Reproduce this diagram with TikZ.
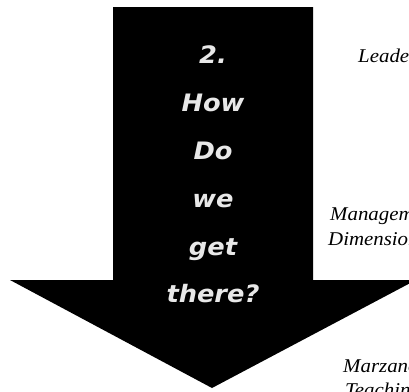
\documentclass[tikz,border=0pt]{standalone}
\usepackage{fontspec}
\setmainfont{Liberation Serif}
\newfontfamily\arrowfont{DejaVu Sans}[BoldItalicFont={DejaVu Sans Bold Oblique}]
\begin{document}
\begin{tikzpicture}[x=1pt,y=-1pt,
  arrowtxt/.style={anchor=base, text=white!91!black, inner sep=0pt,
    font=\arrowfont\bfseries\itshape\fontsize{24}{24}\selectfont},
  sidetxt/.style={anchor=base west, inner sep=0pt,
    font=\itshape\fontsize{19.5}{19.5}\selectfont}]
\useasboundingbox (0,0) rectangle (409,391);
\clip (0,0) rectangle (409,391);
\fill[black] (113,7) -- (313,7) -- (313,280) -- (416,280) -- (212,388) -- (10,280) -- (113,280) -- cycle;
\node[arrowtxt] (t1) at (213,63)  {\scalebox{1.07}[1]{2.}};
\node[arrowtxt] (t2) at (213,111) {\scalebox{1.07}[1]{How}};
\node[arrowtxt] (t3) at (213,159) {\scalebox{1.07}[1]{Do}};
\node[arrowtxt] (t4) at (213,207) {\scalebox{1.07}[1]{we}};
\node[arrowtxt] (t5) at (213,255) {\scalebox{1.07}[1]{get}};
\node[arrowtxt] (t6) at (213,302) {\scalebox{1.07}[1]{there?}};
\node[sidetxt] (s1) at (358,62)  {\scalebox{1.07}[1]{Leadership}};
\node[sidetxt] (s2) at (330,220) {\scalebox{1.07}[1]{Management}};
\node[sidetxt] (s3) at (328,245) {\scalebox{1.07}[1]{Dimensions}};
\node[sidetxt] (s4) at (343,372) {\scalebox{1.07}[1]{Marzano}};
\node[sidetxt] (s5) at (345,396) {\scalebox{1.07}[1]{Teaching}};
\end{tikzpicture}
\end{document}
